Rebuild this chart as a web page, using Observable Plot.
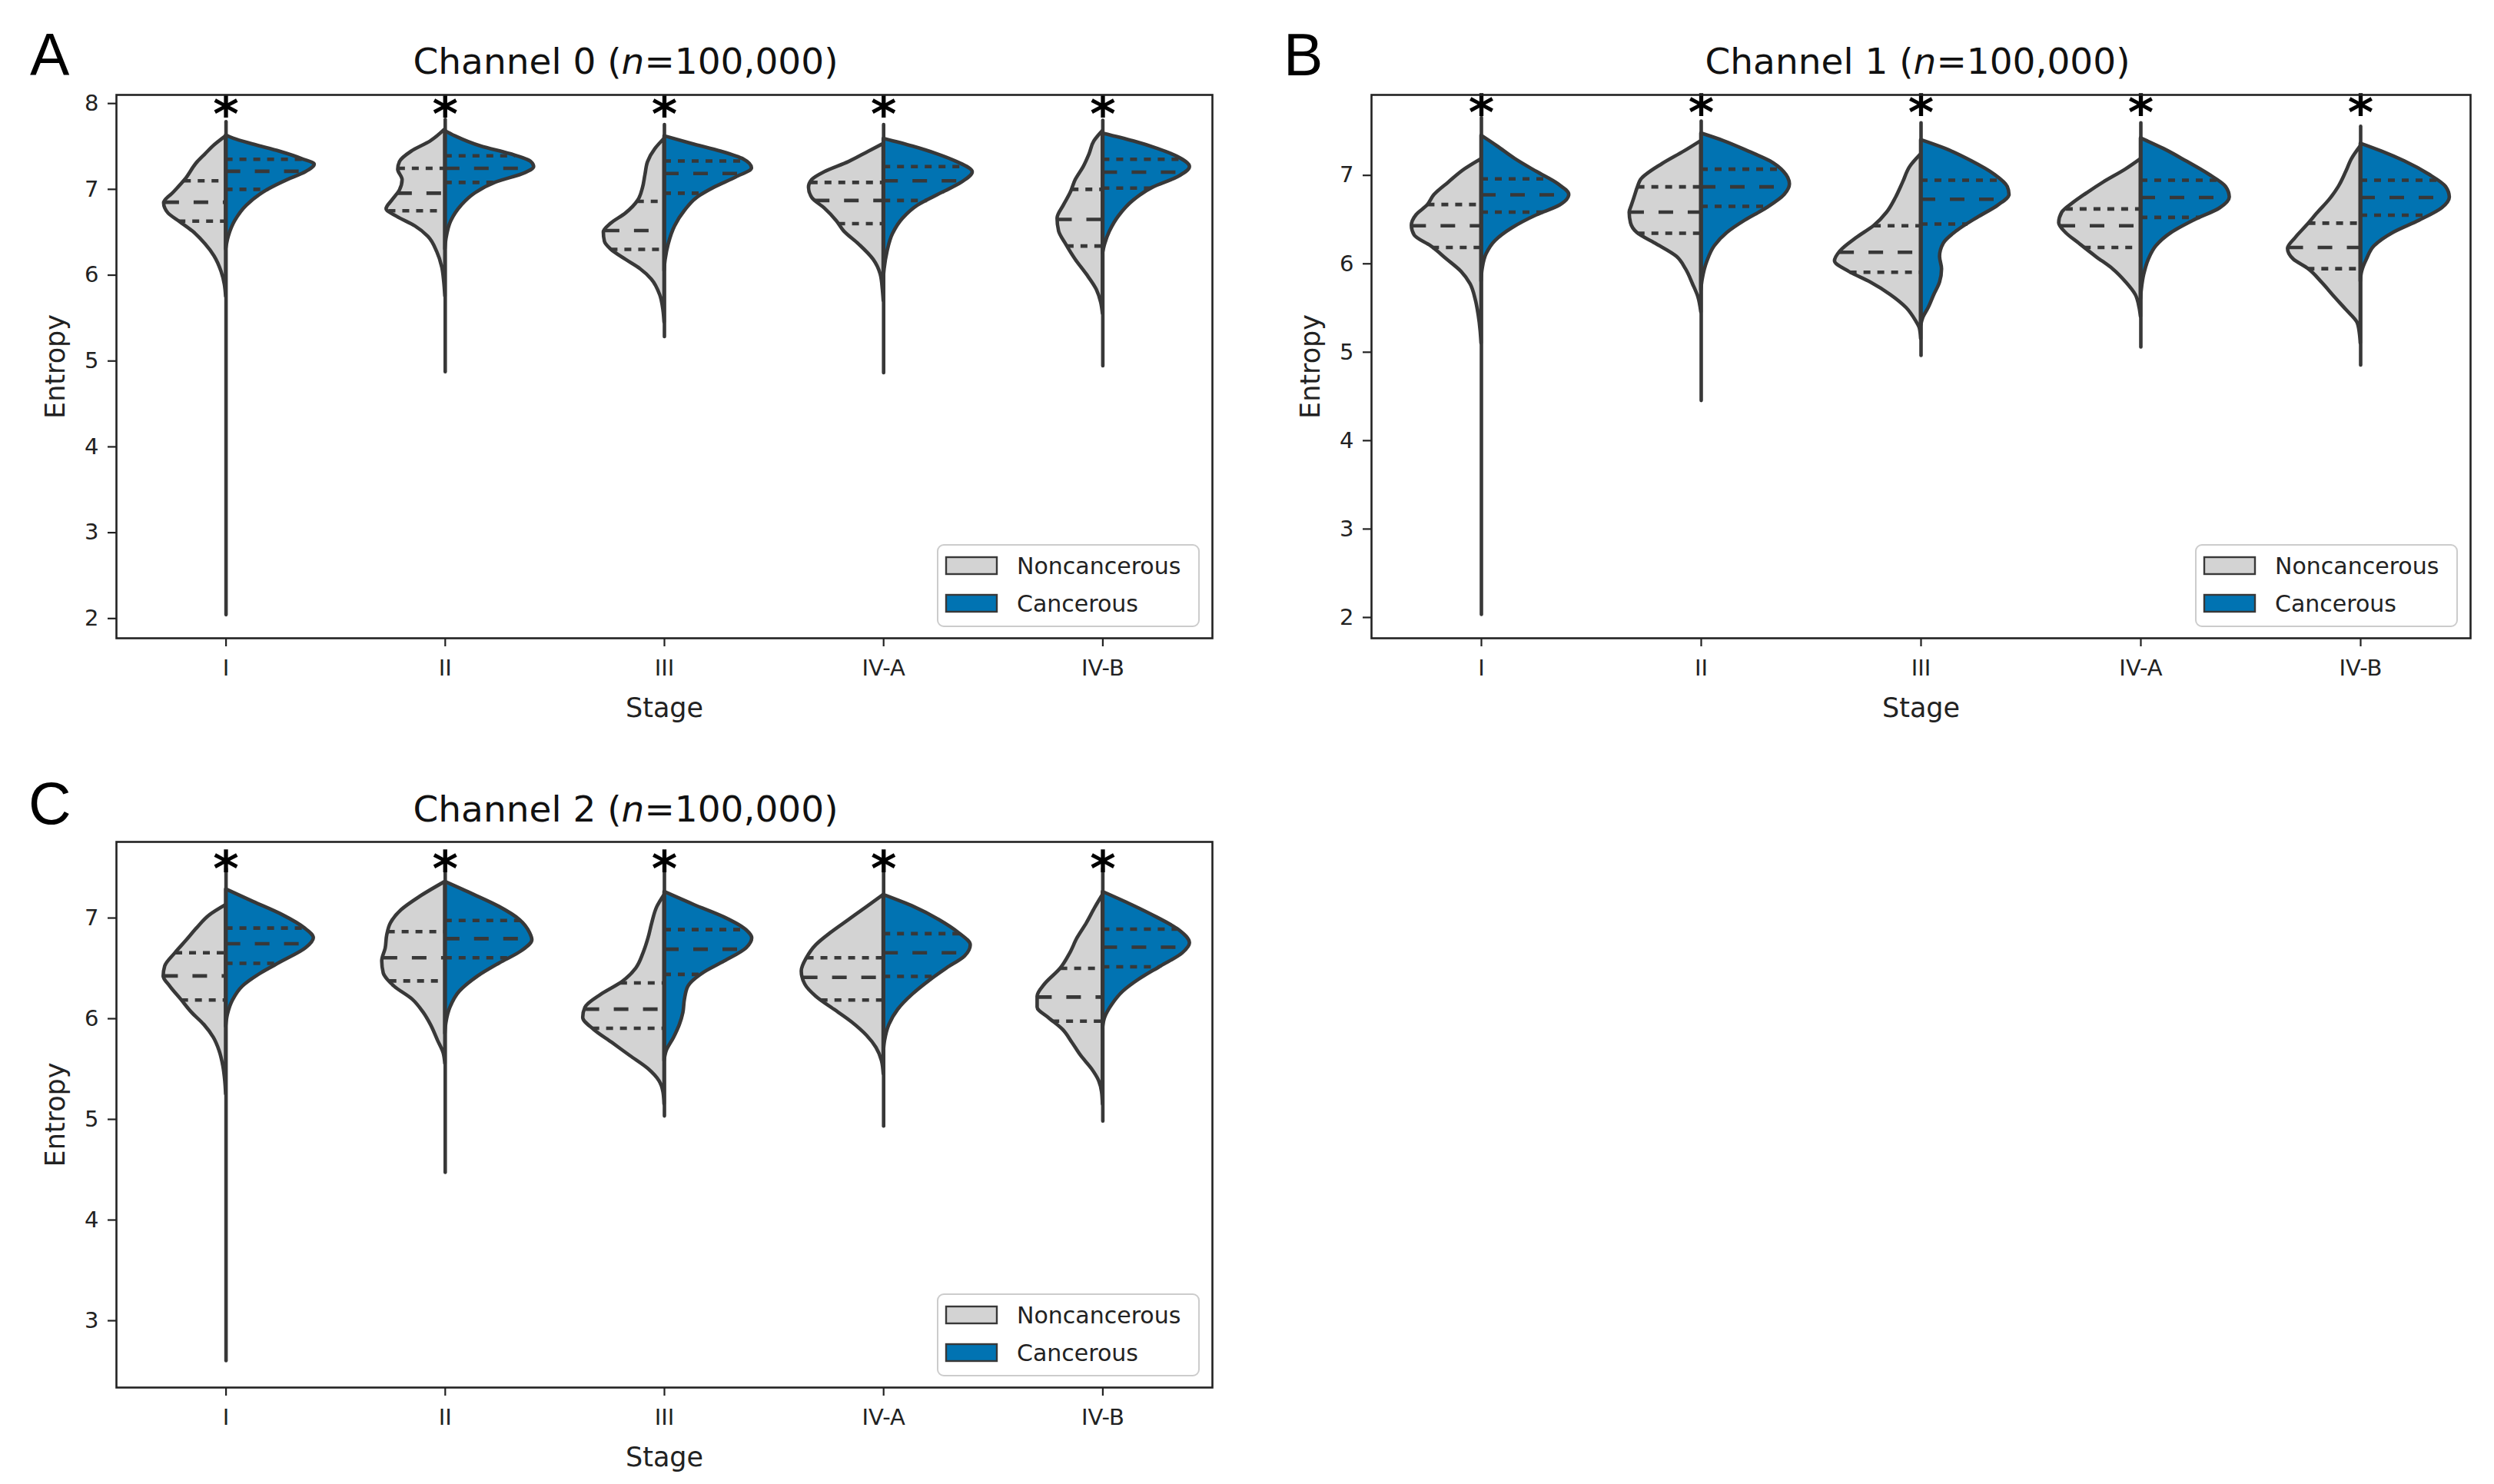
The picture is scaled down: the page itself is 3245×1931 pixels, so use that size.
<!DOCTYPE html>
<html>
<head>
<meta charset="utf-8">
<script src="https://cdn.jsdelivr.net/npm/d3@7"></script>
<script src="https://cdn.jsdelivr.net/npm/@observablehq/plot@0.6"></script>
<style>
  html, body { margin: 0; padding: 0; background: #fff; }
  #page { position: relative; width: 3245px; height: 1931px; overflow: hidden; background: #fff; }
  .panel { position: absolute; }
  #overlay { position: absolute; left: 0; top: 0; pointer-events: none; }
</style>
</head>
<body>
<div id="page"></div>
<script>
// ---------------- DATA ----------------
const stages = ["I", "II", "III", "IV-A", "IV-B"];
const groups = ["Noncancerous", "Cancerous"];
const titles = ["Channel 0", "Channel 1", "Channel 2"];
const nText = "100,000";
const panelLetters = ["A", "B", "C"];

// Half-violin profiles: [entropy, half-width in category units], top to bottom
const ch0Non = [
  [[7.62,0],[7.52,0.05],[7.41,0.094],[7.32,0.129],[7.11,0.187],[6.96,0.24],[6.84,0.283],[6.72,0.263],[6.62,0.21],[6.51,0.152],[6.36,0.094],[6.22,0.053],[6.04,0.021],[5.89,0.006],[5.75,0]],
  [[7.70,0],[7.56,0.067],[7.44,0.154],[7.32,0.207],[7.23,0.215],[7.11,0.195],[6.99,0.207],[6.87,0.242],[6.77,0.268],[6.68,0.219],[6.57,0.137],[6.45,0.078],[6.27,0.037],[6.09,0.014],[5.92,0.005],[5.75,0]],
  [[7.59,0],[7.47,0.042],[7.32,0.075],[7.17,0.087],[7.02,0.098],[6.87,0.12],[6.72,0.176],[6.60,0.244],[6.50,0.277],[6.39,0.272],[6.30,0.244],[6.18,0.176],[6.07,0.109],[5.95,0.058],[5.77,0.02],[5.59,0.005],[5.45,0]],
  [[7.53,0],[7.44,0.068],[7.32,0.158],[7.20,0.27],[7.11,0.326],[7.02,0.341],[6.90,0.326],[6.78,0.27],[6.63,0.214],[6.51,0.18],[6.36,0.113],[6.18,0.046],[6.01,0.014],[5.83,0.004],[5.70,0]],
  [[7.68,0],[7.56,0.039],[7.41,0.061],[7.26,0.088],[7.11,0.124],[6.96,0.147],[6.81,0.179],[6.66,0.207],[6.51,0.20],[6.36,0.168],[6.18,0.124],[6.01,0.074],[5.83,0.028],[5.68,0.008],[5.55,0]]
];
const ch0Can = [
  [[7.63,0],[7.59,0.035],[7.52,0.129],[7.44,0.246],[7.35,0.351],[7.29,0.404],[7.20,0.363],[7.11,0.281],[6.99,0.187],[6.81,0.094],[6.63,0.041],[6.45,0.012],[6.30,0]],
  [[7.68,0],[7.62,0.045],[7.50,0.164],[7.41,0.298],[7.32,0.392],[7.26,0.405],[7.19,0.365],[7.08,0.231],[6.96,0.14],[6.81,0.074],[6.63,0.027],[6.42,0.005],[6.30,0]],
  [[7.62,0],[7.53,0.126],[7.44,0.26],[7.35,0.361],[7.245,0.399],[7.14,0.327],[7.02,0.227],[6.90,0.148],[6.75,0.093],[6.57,0.048],[6.36,0.019],[6.18,0.005],[6.05,0]],
  [[7.59,0],[7.50,0.133],[7.41,0.245],[7.32,0.334],[7.20,0.406],[7.08,0.357],[6.96,0.267],[6.81,0.155],[6.66,0.088],[6.48,0.042],[6.27,0.017],[6.07,0.004],[5.95,0]],
  [[7.65,0],[7.56,0.14],[7.47,0.253],[7.38,0.34],[7.26,0.397],[7.14,0.34],[7.02,0.228],[6.87,0.14],[6.69,0.074],[6.51,0.032],[6.36,0.01],[6.25,0]]
];
const ch0NonQuart = [[6.63,6.85,7.10],[6.75,6.955,7.245],[6.30,6.52,6.86],[6.60,6.87,7.08],[6.34,6.65,7.0]];
const ch0CanQuart = [[7.00,7.21,7.35],[7.08,7.245,7.39],[6.955,7.185,7.33],[6.87,7.10,7.265],[7.015,7.20,7.35]];
const ch0Tails = [[7.785,2.04],[7.81,4.87],[7.75,5.28],[7.75,4.86],[7.80,4.94]];

const ch1Non = [
  [[7.185,0],[7.07,0.075],[6.92,0.149],[6.78,0.214],[6.66,0.246],[6.55,0.296],[6.43,0.317],[6.32,0.304],[6.20,0.23],[6.05,0.157],[5.91,0.091],[5.77,0.05],[5.59,0.026],[5.42,0.013],[5.24,0.004],[5.10,0]],
  [[7.39,0],[7.27,0.078],[7.13,0.176],[6.95,0.274],[6.87,0.288],[6.75,0.304],[6.66,0.316],[6.58,0.326],[6.46,0.32],[6.35,0.291],[6.23,0.209],[6.08,0.111],[5.94,0.07],[5.77,0.038],[5.62,0.013],[5.45,0]],
  [[7.24,0],[7.10,0.049],[6.92,0.082],[6.75,0.114],[6.58,0.155],[6.43,0.213],[6.29,0.295],[6.14,0.368],[6.03,0.392],[5.91,0.327],[5.79,0.229],[5.65,0.139],[5.50,0.066],[5.36,0.025],[5.27,0.006],[5.15,0]],
  [[7.185,0],[7.07,0.067],[6.92,0.17],[6.81,0.238],[6.69,0.307],[6.58,0.358],[6.46,0.372],[6.35,0.341],[6.23,0.281],[6.08,0.204],[5.94,0.127],[5.79,0.067],[5.65,0.024],[5.50,0.006],[5.40,0]],
  [[7.33,0],[7.185,0.04],[7.04,0.066],[6.87,0.10],[6.72,0.143],[6.58,0.194],[6.43,0.246],[6.29,0.297],[6.17,0.331],[6.05,0.305],[5.94,0.237],[5.79,0.177],[5.62,0.117],[5.48,0.066],[5.33,0.014],[5.21,0.004],[5.10,0]]
];
const ch1Can = [
  [[7.45,0],[7.33,0.072],[7.185,0.154],[7.04,0.252],[6.90,0.35],[6.78,0.399],[6.66,0.357],[6.55,0.252],[6.40,0.138],[6.26,0.064],[6.11,0.023],[5.94,0.005],[5.80,0]],
  [[7.475,0],[7.39,0.101],[7.27,0.216],[7.16,0.314],[7.04,0.376],[6.90,0.403],[6.78,0.379],[6.63,0.298],[6.49,0.2],[6.35,0.118],[6.20,0.061],[6.03,0.028],[5.82,0.006],[5.70,0]],
  [[7.40,0],[7.30,0.112],[7.16,0.231],[7.01,0.334],[6.87,0.394],[6.78,0.402],[6.66,0.351],[6.52,0.256],[6.37,0.163],[6.23,0.103],[6.08,0.086],[5.94,0.095],[5.79,0.086],[5.65,0.06],[5.50,0.034],[5.39,0.01],[5.30,0]],
  [[7.42,0],[7.30,0.104],[7.16,0.207],[7.01,0.31],[6.87,0.387],[6.75,0.404],[6.63,0.361],[6.49,0.241],[6.35,0.139],[6.20,0.07],[6.05,0.036],[5.88,0.015],[5.71,0.004],[5.60,0]],
  [[7.36,0],[7.27,0.097],[7.16,0.20],[7.01,0.311],[6.87,0.388],[6.75,0.405],[6.63,0.371],[6.49,0.268],[6.35,0.148],[6.20,0.063],[6.05,0.028],[5.91,0.006],[5.80,0]]
];
const ch1NonQuart = [[6.185,6.43,6.67],[6.345,6.585,6.87],[5.905,6.13,6.43],[6.185,6.43,6.62],[5.945,6.185,6.46]];
const ch1CanQuart = [[6.585,6.78,6.96],[6.65,6.87,7.07],[6.45,6.73,6.945],[6.525,6.75,6.945],[6.55,6.75,6.945]];
const ch1Tails = [[7.65,2.03],[7.61,4.45],[7.59,4.96],[7.59,5.055],[7.55,4.85]];

const ch2Non = [
  [[7.13,0],[7.03,0.073],[6.90,0.132],[6.78,0.179],[6.65,0.232],[6.52,0.278],[6.42,0.285],[6.32,0.255],[6.19,0.205],[6.06,0.156],[5.94,0.10],[5.81,0.056],[5.68,0.03],[5.53,0.013],[5.38,0.004],[5.25,0]],
  [[7.36,0],[7.21,0.116],[7.08,0.199],[6.95,0.248],[6.83,0.265],[6.70,0.272],[6.57,0.288],[6.45,0.281],[6.32,0.232],[6.19,0.149],[6.06,0.099],[5.94,0.066],[5.78,0.033],[5.66,0.008],[5.55,0]],
  [[7.23,0],[7.11,0.033],[6.95,0.056],[6.80,0.073],[6.65,0.096],[6.50,0.129],[6.37,0.189],[6.24,0.288],[6.11,0.361],[6.01,0.371],[5.89,0.321],[5.76,0.238],[5.63,0.156],[5.50,0.073],[5.38,0.023],[5.27,0.005],[5.15,0]],
  [[7.23,0],[7.11,0.076],[6.98,0.159],[6.85,0.242],[6.73,0.308],[6.60,0.351],[6.47,0.374],[6.34,0.358],[6.22,0.308],[6.09,0.225],[5.96,0.142],[5.83,0.076],[5.71,0.033],[5.58,0.008],[5.45,0]],
  [[7.23,0],[7.11,0.033],[6.95,0.073],[6.80,0.116],[6.65,0.149],[6.50,0.192],[6.34,0.265],[6.22,0.298],[6.11,0.298],[6.01,0.248],[5.89,0.182],[5.76,0.139],[5.63,0.099],[5.50,0.05],[5.38,0.017],[5.27,0.004],[5.15,0]]
];
const ch2Can = [
  [[7.285,0],[7.16,0.126],[7.03,0.258],[6.90,0.358],[6.80,0.40],[6.70,0.364],[6.57,0.258],[6.45,0.159],[6.32,0.076],[6.19,0.033],[6.04,0.008],[5.92,0]],
  [[7.36,0],[7.23,0.132],[7.11,0.248],[6.98,0.341],[6.85,0.387],[6.78,0.397],[6.67,0.348],[6.55,0.248],[6.42,0.149],[6.27,0.066],[6.11,0.023],[5.96,0.005],[5.85,0]],
  [[7.26,0],[7.13,0.136],[7.005,0.275],[6.88,0.374],[6.80,0.40],[6.70,0.374],[6.57,0.275],[6.45,0.175],[6.32,0.109],[6.19,0.093],[6.06,0.086],[5.94,0.07],[5.81,0.043],[5.68,0.01],[5.58,0]],
  [[7.23,0],[7.11,0.139],[6.98,0.255],[6.85,0.344],[6.73,0.397],[6.62,0.371],[6.50,0.288],[6.37,0.205],[6.24,0.132],[6.09,0.066],[5.94,0.026],[5.78,0.006],[5.65,0]],
  [[7.26,0],[7.13,0.132],[7.005,0.248],[6.88,0.348],[6.75,0.397],[6.65,0.364],[6.52,0.265],[6.39,0.166],[6.27,0.093],[6.14,0.043],[6.01,0.01],[5.90,0]]
];
const ch2NonQuart = [[6.185,6.425,6.655],[6.375,6.605,6.865],[5.905,6.095,6.355],[6.185,6.41,6.605],[5.975,6.215,6.50]];
const ch2CanQuart = [[6.55,6.745,6.90],[6.605,6.795,6.975],[6.44,6.69,6.885],[6.42,6.655,6.845],[6.515,6.71,6.89]];
const ch2Tails = [[7.49,2.60],[7.49,4.47],[7.46,5.03],[7.46,4.93],[7.49,4.98]];

const yTicks0 = [2, 3, 4, 5, 6, 7, 8];
const yTicks1 = [2, 3, 4, 5, 6, 7];
const yTicks2 = [3, 4, 5, 6, 7];
const sigLevel = [8.0, 7.83, 7.59]; // height of the significance asterisks

// ---------------- STYLE / LAYOUT ----------------
const FILL_NON = "#d3d3d3";
const FILL_CAN = "#0173b2";
const LINE = "#383838";
const TEXT = "#222";
const FONT = "DejaVu Sans";
const LW = 4.6;

const panels = [
  {non: ch0Non, can: ch0Can, nonQ: ch0NonQuart, canQ: ch0CanQuart, tails: ch0Tails, yTicks: yTicks0,
   left: 0, top: 0, width: 1620, height: 960, mL: 151, mR: 43, mT: 123, mB: 130, yDomain: [1.77, 8.10]},
  {non: ch1Non, can: ch1Can, nonQ: ch1NonQuart, canQ: ch1CanQuart, tails: ch1Tails, yTicks: yTicks1,
   left: 1633, top: 0, width: 1612, height: 960, mL: 151, mR: 31, mT: 123, mB: 130, yDomain: [1.765, 7.91]},
  {non: ch2Non, can: ch2Can, nonQ: ch2NonQuart, canQ: ch2CanQuart, tails: ch2Tails, yTicks: yTicks2,
   left: 0, top: 972, width: 1620, height: 960, mL: 151, mR: 43, mT: 123, mB: 127, yDomain: [2.336, 7.756]}
];

function widthAt(profile, v) {
  for (let k = 0; k < profile.length - 1; k++) {
    const [v0, w0] = profile[k], [v1, w1] = profile[k + 1];
    if (v <= v0 && v >= v1) {
      const t = (v0 - v) / (v0 - v1);
      return w0 + t * (w1 - w0);
    }
  }
  return 0;
}

function halfRows(profiles, side) {
  const rows = [];
  profiles.forEach((prof, i) => {
    prof.forEach(([v, w]) => rows.push({key: side + i, v, x1: side < 0 ? i - w : i, x2: side < 0 ? i : i + w}));
  });
  return rows;
}

function quartRows(quarts, profiles, side) {
  const rows = [];
  quarts.forEach((qs, i) => {
    qs.forEach((q, j) => {
      const w = widthAt(profiles[i], q);
      rows.push({v: q, median: j === 1, x1: side < 0 ? i - w : i, x2: side < 0 ? i : i + w});
    });
  });
  return rows;
}

const page = document.getElementById("page");

panels.forEach((p, pi) => {
  const nonRows = halfRows(p.non, -1);
  const canRows = halfRows(p.can, 1);
  const qRows = quartRows(p.nonQ, p.non, -1).concat(quartRows(p.canQ, p.can, 1));
  const sig = stages.map((s, i) => ({x: i, y: sigLevel[pi]}));

  const chart = Plot.plot({
    width: p.width,
    height: p.height,
    marginLeft: p.mL, marginRight: p.mR, marginTop: p.mT, marginBottom: p.mB,
    style: {fontFamily: FONT, background: "transparent", overflow: "visible", color: TEXT},
    x: {domain: [-0.5, 4.5]},
    y: {domain: p.yDomain},
    marks: [
      Plot.areaX(nonRows, {y: "v", x1: "x1", x2: "x2", z: "key", fill: FILL_NON, stroke: LINE, strokeWidth: LW, strokeLinejoin: "round", curve: "monotone-y"}),
      Plot.areaX(canRows, {y: "v", x1: "x1", x2: "x2", z: "key", fill: FILL_CAN, stroke: LINE, strokeWidth: LW, strokeLinejoin: "round", curve: "monotone-y"}),
      Plot.ruleY(qRows.filter(d => !d.median), {y: "v", x1: "x1", x2: "x2", stroke: LINE, strokeWidth: LW, strokeDasharray: "9,9"}),
      Plot.ruleY(qRows.filter(d => d.median), {y: "v", x1: "x1", x2: "x2", stroke: LINE, strokeWidth: LW, strokeDasharray: "19,19"}),
      Plot.ruleX(p.tails, {x: (d, i) => i, y1: d => d[0], y2: d => d[1], stroke: LINE, strokeWidth: LW, strokeLinecap: "round"}),
      Plot.text(sig, {x: "x", y: "y", text: () => "*", fontSize: 64, fontWeight: "bold", fill: "#000", lineAnchor: "bottom", dy: 36, fontFamily: FONT}),
      Plot.axisX(d3.range(stages.length), {tickFormat: i => stages[i], tickSize: 11, tickPadding: 17, fontSize: 29, strokeWidth: 2.2, stroke: TEXT, fill: TEXT, label: null, fontFamily: FONT}),
      Plot.axisY(p.yTicks, {tickFormat: d3.format("d"), tickSize: 11, tickPadding: 12, fontSize: 29, strokeWidth: 2.2, stroke: TEXT, fill: TEXT, label: null, fontFamily: FONT}),
      Plot.text(["Entropy"], {text: d => d, frameAnchor: "left", textAnchor: "middle", lineAnchor: "bottom", rotate: -90, dx: -68, fontSize: 35, fill: TEXT, fontFamily: FONT}),
      Plot.text(["Stage"], {text: d => d, frameAnchor: "bottom", textAnchor: "middle", lineAnchor: "bottom", dy: 102, fontSize: 35, fill: TEXT, fontFamily: FONT}),
      Plot.frame({stroke: TEXT, strokeWidth: 2.6})
    ]
  });
  const holder = document.createElement("div");
  holder.className = "panel";
  holder.style.left = p.left + "px";
  holder.style.top = p.top + "px";
  holder.appendChild(chart);
  page.appendChild(holder);
});

// ---------------- OVERLAY: titles, panel letters, legends ----------------
const titlePos = [{x: 814, y: 96}, {x: 2495, y: 96}, {x: 814, y: 1069}];
const letterPos = [{x: 39, y: 98}, {x: 1670, y: 98}, {x: 37, y: 1072}];
const legendPos = [{x: 1220, y: 709}, {x: 2857, y: 709}, {x: 1220, y: 1684}];

let svg = `<svg id="overlay" width="3245" height="1931" xmlns="http://www.w3.org/2000/svg">`;
titles.forEach((t, i) => {
  const p = titlePos[i];
  svg += `<text x="${p.x}" y="${p.y}" text-anchor="middle" font-family="${FONT}" font-size="47" fill="#111">${t} (<tspan font-style="italic">n</tspan>=${nText})</text>`;
});
panelLetters.forEach((t, i) => {
  const p = letterPos[i];
  svg += `<text x="${p.x}" y="${p.y}" font-family="Liberation Sans" font-size="77" fill="#000">${t}</text>`;
});
legendPos.forEach(p => {
  svg += `<rect x="${p.x}" y="${p.y}" width="340" height="106" rx="8" fill="#fff" fill-opacity="0.8" stroke="#cccccc" stroke-width="2"/>`;
  [FILL_NON, FILL_CAN].forEach((c, k) => {
    const yy = p.y + 16 + k * 49;
    svg += `<rect x="${p.x + 11}" y="${yy}" width="66" height="22" fill="${c}" stroke="${LINE}" stroke-width="2.4"/>`;
    svg += `<text x="${p.x + 103}" y="${yy + 22}" font-family="${FONT}" font-size="30" fill="${TEXT}">${groups[k]}</text>`;
  });
});
svg += `</svg>`;
page.insertAdjacentHTML("beforeend", svg);
</script>
</body>
</html>
